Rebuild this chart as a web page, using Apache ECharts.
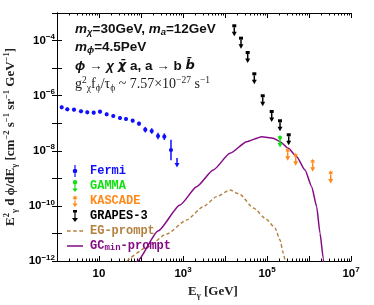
<!DOCTYPE html>
<html><head><meta charset="utf-8">
<script src="https://cdn.jsdelivr.net/npm/echarts@6/dist/echarts.min.js"></script>
<style>html,body{margin:0;padding:0;background:#fff}#c{width:374px;height:305px}</style>
</head><body><div id="c"></div>
<script>
// all values are log10: x = log10(E_gamma / GeV), y = log10(E^2 dphi/dE)
const fermiLogE = [0.112,0.245,0.405,0.571,0.721,0.874,1.024,1.183,1.340,1.500,1.643,1.802,1.952,2.102,2.255,2.405,2.555,2.714,2.857];
const fermiLogF = [-6.422,-6.494,-6.509,-6.567,-6.603,-6.618,-6.581,-6.676,-6.737,-6.810,-6.846,-6.908,-7.017,-7.234,-7.282,-7.463,-7.488,-7.971,-8.261];
const fermiErr  = [0.06,0.06,0.06,0.06,0.06,0.06,0.06,0.06,0.06,0.06,0.06,0.06,0.07,0.10,0.10,0.12,0.12,0.37,0];
const fermiUpper= [0,0,0,0,0,0,0,0,0,0,0,0,0,0,0,0,0,0,1];
const gammaLogE = [5.310];
const gammaLogF = [-7.518];
const kascadeLogE = [5.493,5.683,6.088,6.517];
const kascadeLogF = [-7.982,-8.163,-8.381,-8.805];
const grapesLogE = [4.221,4.381,4.540,4.698,4.898,5.112,5.310,5.517];
const grapesLogF = [-3.464,-3.914,-4.433,-5.206,-6.004,-6.574,-6.911,-7.419];
const egLogE = [1.667,2.136,2.612,3.088,3.483,3.802,4.119,4.357,4.674,4.993,5.190,5.310,5.388,5.440];
const egLogF = [-12.0,-11.509,-11.019,-10.511,-10.028,-9.665,-9.422,-9.586,-10.075,-10.493,-10.801,-11.237,-11.719,-12.071];
const gcLogE = [1.80,1.917,2.405,2.929,3.326,3.721,4.119,4.517,4.874,5.150,5.310,5.507,5.707,5.905,6.064,6.183,6.262,6.340,6.37];
const gcLogF = [-12.25,-12.0,-10.910,-9.967,-9.303,-8.697,-8.091,-7.670,-7.488,-7.547,-7.670,-7.909,-8.214,-8.697,-9.303,-10.028,-10.993,-11.901,-12.4];
const xLabelValues = [1,3,5,7];
const yLabelValues = [-4,-6,-8,-10,-12];

const BLUE='#1010ff', GREEN='#10e010', ORANGE='#ff8a1a', BLACK='#000', BROWN='#b3803f', PURPLE='#850a85';
const minorX=[];
for(let d=0; d<7; d++) for(let m=2; m<10; m++) minorX.push(d+Math.log10(m));
const SANS='Liberation Sans', SERIF='Liberation Serif', MONO='Liberation Mono';

function arrow(x,y0,len,color){
  return [
    {type:'line',shape:{x1:x,y1:y0,x2:x,y2:y0+len},style:{stroke:color,lineWidth:1.5}},
    {type:'polygon',shape:{points:[[x-2.5,y0+len-1],[x+2.5,y0+len-1],[x,y0+len+3.5]]},style:{fill:color}}
  ];
}
function star(x,y,ro,ri){
  const pts=[];
  for(let k=0;k<12;k++){const a=(-90+k*30)*Math.PI/180; const r=k%2?ri:ro; pts.push([x+r*Math.cos(a),y+r*Math.sin(a)]);}
  return pts;
}
function ulRender(kind,color){
  return function(params,api){
    const p=api.coord([api.value(0),api.value(1)]);
    const x=p[0],y=p[1];
    let ch=[];
    if(kind==='square'){ch.push({type:'rect',shape:{x:x-2,y:y-1.5,width:4,height:3},style:{fill:color}}); ch=ch.concat(arrow(x,y+1.5,5.5,color));}
    if(kind==='circle'){ch.push({type:'circle',shape:{cx:x,cy:y,r:2},style:{fill:color}}); ch=ch.concat(arrow(x,y+1.5,5,color));}
    if(kind==='star'){ch.push({type:'polygon',shape:{points:star(x,y,2.8,1.3)},style:{fill:color}}); ch=ch.concat(arrow(x,y+2,5,color));}
    return {type:'group',children:ch};
  };
}
function fermiRender(params,api){
  const lx=api.value(0), ly=api.value(1), e=api.value(2), ul=api.value(3);
  const p=api.coord([lx,ly]);
  if(ul){ return {type:'group',children:arrow(p[0],p[1],6,BLUE)}; }
  const a=api.coord([lx,ly+e]), b=api.coord([lx,ly-e]);
  return {type:'group',children:[
    {type:'line',shape:{x1:a[0],y1:a[1],x2:b[0],y2:b[1]},style:{stroke:BLUE,lineWidth:1.5}},
    {type:'circle',shape:{cx:p[0],cy:p[1],r:2.1},style:{fill:BLUE}}
  ]};
}

const labRich={
  b:{fontFamily:SANS,fontWeight:'bold',fontSize:11.5,lineHeight:15,color:'#000'},
  s:{fontFamily:SANS,fontWeight:'bold',fontSize:8,lineHeight:8,verticalAlign:'top',color:'#000'}
};
const base={type:'value',min:0,max:7,splitLine:{show:false}};
const xAxes=[
  Object.assign({},base,{position:'bottom',interval:1,axisLine:{lineStyle:{color:'#000',width:1}},
    axisTick:{inside:true,length:5,lineStyle:{color:'#000'}},
    axisLabel:{customValues:xLabelValues,margin:5,formatter:v=>v===1?'{b|10}':'{b|10}{s|'+v+'}',rich:labRich}}),
  Object.assign({},base,{position:'bottom',axisLine:{show:false},axisTick:{inside:true,length:2.5,customValues:minorX,lineStyle:{color:'#000'}},axisLabel:{show:false}}),
  Object.assign({},base,{position:'top',interval:1,axisLine:{lineStyle:{color:'#000',width:1}},axisTick:{inside:true,length:5,lineStyle:{color:'#000'}},axisLabel:{show:false}}),
  Object.assign({},base,{position:'top',axisLine:{show:false},axisTick:{inside:true,length:2.5,customValues:minorX,lineStyle:{color:'#000'}},axisLabel:{show:false}})
];
const ybase={type:'value',min:-12,max:-3,interval:1,splitLine:{show:false}};
const yAxes=[
  Object.assign({},ybase,{position:'left',axisLine:{lineStyle:{color:'#000',width:1}},axisTick:{inside:true,length:5,lineStyle:{color:'#000'}},
    axisLabel:{customValues:yLabelValues,margin:2,formatter:v=>'{b|10}{s|\u2212'+(-v)+'}',rich:labRich}}),
  Object.assign({},ybase,{position:'right',axisLine:{lineStyle:{color:'#000',width:1}},axisTick:{inside:true,length:5,lineStyle:{color:'#000'}},axisLabel:{show:false}})
];

const annB={fontFamily:SANS,fontWeight:'bold',fontSize:13.5,lineHeight:17,fill:'#111'};
const annI=Object.assign({},annB,{fontStyle:'italic'});
const annD={fontFamily:'DejaVu Sans',fontWeight:'bold',fontStyle:'italic',fontSize:13,lineHeight:17,fill:'#111'};
const annSub={fontFamily:SANS,fontWeight:'bold',fontStyle:'italic',fontSize:9.5,lineHeight:9,verticalAlign:'bottom',fill:'#111'};
const annRich={b:annB,i:annI,d:annD,sub:annSub};
const serS={fontFamily:SERIF,fontSize:14,lineHeight:18,fill:'#1a1a1a'};
const serSup={fontFamily:SERIF,fontSize:9.5,lineHeight:9,verticalAlign:'top',fill:'#1a1a1a'};
const serSub={fontFamily:SERIF,fontSize:9.5,lineHeight:9,verticalAlign:'bottom',fill:'#1a1a1a'};
const tS={fontFamily:SERIF,fontWeight:'bold',fontSize:13,lineHeight:17,fill:'#222'};
const tSup={fontFamily:SERIF,fontWeight:'bold',fontSize:8.5,lineHeight:8,verticalAlign:'top',fill:'#222'};
const tSub={fontFamily:SERIF,fontWeight:'bold',fontSize:8.5,lineHeight:8,verticalAlign:'bottom',fill:'#222'};

const graphic=[
  {type:'text',x:75,y:29,style:{text:'{i|m}{sub|\u03c7}{b|=30GeV, }{i|m}{sub|a}{b|=12GeV}',rich:annRich,verticalAlign:'middle'}},
  {type:'text',x:75,y:47,style:{text:'{i|m}{sub|\u03d5}{b|=4.5PeV}',rich:annRich,verticalAlign:'middle'}},
  {type:'text',x:75,y:66,style:{text:'{i|\u03d5}{b| \u2192 }{i|\u03c7}{b| }{d|\u03c7\u0304}{b| a, a \u2192 b }{d|b\u0304}',rich:annRich,verticalAlign:'middle'}},
  {type:'text',x:75,y:84,style:{text:'{s|g}{sup|2}{sub|\u03c7}{s|f}{sub|\u03d5}{s|/\u03c4}{sub|\u03d5}{s| ~ 7.57\u00d710}{sup|\u221227}{s| s}{sup|\u22121}',rich:{s:serS,sup:serSup,sub:serSub},verticalAlign:'middle'}},
  {type:'text',x:213,y:292,style:{text:'{t|E}{sub|\u03b3}{t| [GeV]}',rich:{t:tS,sub:tSub},align:'center',verticalAlign:'middle'}},
  {type:'text',x:11,y:137,rotation:Math.PI/2,style:{text:'{t|E}{sup|2}{sub|\u03b3}{t| d \u03d5/dE}{sub|\u03b3}{t| [cm}{sup|\u22122}{t| s}{sup|\u22121}{t| sr}{sup|\u22121}{t| GeV}{sup|\u22121}{t|]}',rich:{t:tS,sup:tSup,sub:tSub},align:'center',verticalAlign:'middle'}}
];

const legTxt={fontFamily:MONO,fontWeight:'bold',fontSize:12,lineHeight:12};
const option={
  animation:false,
  grid:{left:57,right:23,top:13,bottom:44},
  xAxis:xAxes, yAxis:yAxes, graphic:graphic,
  legend:{orient:'vertical',left:62,top:160,itemWidth:16,itemHeight:12,itemGap:3,
    textStyle:Object.assign({},legTxt,{padding:[0,0,0,2],rich:{
      g:Object.assign({},legTxt,{color:PURPLE}),gs:{fontFamily:MONO,fontWeight:'bold',fontSize:9,lineHeight:9,verticalAlign:'bottom',color:PURPLE}}}),
    formatter:n=>n==='GCmin-prompt'?'{g|GC}{gs|min}{g|-prompt}':n,
    data:[
      {name:'Fermi',icon:'path://M4.4,0H5.6V12H4.4Z M7.3,6A2.3,2.3,0,1,1,2.7,6A2.3,2.3,0,1,1,7.3,6Z',textStyle:{color:BLUE}},
      {name:'GAMMA',icon:'path://M7,2.2A2.2,2.2,0,1,1,2.6,2.2A2.2,2.2,0,1,1,7,2.2Z M4.2,4H5.4V8.5H7.6L4.8,12L2,8.5H4.2Z',textStyle:{color:GREEN}},
      {name:'KASCADE',icon:'path://M5,0.2L5.65,1.87L7.42,1.6L6.3,3L7.42,4.4L5.65,4.13L5,5.8L4.35,4.13L2.58,4.4L3.7,3L2.58,1.6L4.35,1.87Z M4.4,5.5H5.6V8.5H7.5L5,12L2.5,8.5H4.4Z',textStyle:{color:ORANGE}},
      {name:'GRAPES-3',icon:'path://M3,0H7V2.5H5.6V8H8L5,12L2,8H4.4V2.5H3Z',textStyle:{color:BLACK}},
      {name:'EG-prompt',icon:'path://M0,5.3H3.5V6.7H0Z M6,5.3H9.5V6.7H6Z M12,5.3H15.5V6.7H12Z',textStyle:{color:BROWN}},
      {name:'GCmin-prompt',icon:'path://M0,5.25H16V6.75H0Z',textStyle:{color:PURPLE}}
    ]},
  series:[
    {name:'EG-prompt',type:'line',symbol:'none',smooth:0.2,smoothMonotone:'x',data:egLogE.map((x,i)=>[x,egLogF[i]]),
      lineStyle:{color:BROWN,width:1.4,type:[3.5,2.5]},itemStyle:{color:BROWN},z:2},
    {name:'GCmin-prompt',type:'line',symbol:'none',smooth:0.2,smoothMonotone:'x',data:gcLogE.map((x,i)=>[x,gcLogF[i]]),
      lineStyle:{color:PURPLE,width:1.5},itemStyle:{color:PURPLE},z:2},
    {name:'Fermi',type:'custom',renderItem:fermiRender,itemStyle:{color:BLUE},encode:{x:0,y:1},
      data:fermiLogE.map((x,i)=>[x,fermiLogF[i],fermiErr[i],fermiUpper[i]]),z:3},
    {name:'GAMMA',type:'custom',renderItem:ulRender('circle',GREEN),itemStyle:{color:GREEN},encode:{x:0,y:1},
      data:gammaLogE.map((x,i)=>[x,gammaLogF[i]]),z:4},
    {name:'KASCADE',type:'custom',renderItem:ulRender('star',ORANGE),itemStyle:{color:ORANGE},encode:{x:0,y:1},
      data:kascadeLogE.map((x,i)=>[x,kascadeLogF[i]]),z:4},
    {name:'GRAPES-3',type:'custom',renderItem:ulRender('square',BLACK),itemStyle:{color:BLACK},encode:{x:0,y:1},
      data:grapesLogE.map((x,i)=>[x,grapesLogF[i]]),z:4}
  ]
};
const chart=echarts.init(document.getElementById('c'),null,{renderer:'canvas'});
chart.setOption(option);
</script></body></html>
